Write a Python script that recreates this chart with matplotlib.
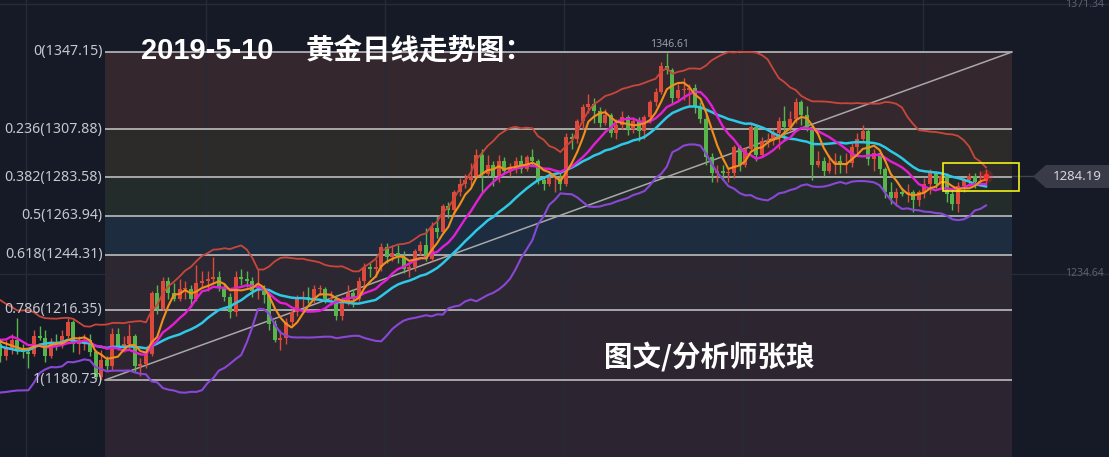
import numpy as np
import pandas as pd
import matplotlib
matplotlib.use('Agg')
import matplotlib.pyplot as plt
from matplotlib.patches import Rectangle, Polygon

# daily gold candles, 21 warm-up bars (off screen) + 177 visible bars
opens = [
    1214, 1208, 1211, 1213, 1212, 1211, 1194, 1193, 1174, 1174,
    1184, 1190, 1200, 1195, 1186, 1206, 1212, 1211, 1202, 1206, 1201,
    1199, 1193, 1197, 1201, 1196, 1195, 1194, 1203, 1202, 1193,
    1200, 1198, 1203, 1210, 1199, 1199, 1201, 1195, 1182, 1191,
    1188, 1204, 1198, 1199, 1203, 1188, 1189, 1194, 1225, 1217,
    1231, 1225, 1222, 1227, 1227, 1222, 1230, 1231, 1232, 1233,
    1228, 1223, 1215, 1233, 1232, 1231, 1226, 1226, 1224, 1209,
    1201, 1202, 1210, 1215, 1222, 1223, 1222, 1227, 1227, 1222,
    1222, 1213, 1221, 1225, 1222, 1231, 1238, 1237, 1238, 1248,
    1243, 1245, 1243, 1237, 1238, 1246, 1249, 1242, 1258, 1256,
    1269, 1267, 1276, 1280, 1282, 1284, 1295, 1285, 1290, 1284,
    1292, 1287, 1289, 1292, 1288, 1294, 1292, 1282, 1280, 1283,
    1283, 1280, 1304, 1303, 1312, 1319, 1321, 1317, 1311, 1315,
    1306, 1310, 1314, 1308, 1312, 1307, 1314, 1322, 1327, 1340,
    1338, 1324, 1328, 1328, 1329, 1319, 1313, 1294, 1286, 1287,
    1286, 1286, 1299, 1290, 1298, 1309, 1295, 1302, 1302, 1306,
    1312, 1309, 1313, 1322, 1315, 1309, 1290, 1292, 1287, 1291,
    1292, 1290, 1291, 1299, 1303, 1307, 1293, 1296, 1288, 1276,
    1273, 1276, 1275, 1276, 1272, 1276, 1280, 1286, 1280, 1284,
    1275, 1270, 1279, 1282, 1284, 1281, 1281.5,
]
highs = [
    1216, 1218, 1217, 1219, 1214, 1213, 1200, 1195, 1180, 1188,
    1192, 1202, 1203, 1196, 1207, 1214, 1215, 1212, 1208, 1208, 1203,
    1201, 1201, 1204, 1212, 1199, 1197, 1206, 1208, 1206, 1202,
    1204, 1206, 1212, 1211, 1203, 1204, 1204, 1196, 1196, 1193,
    1207, 1207, 1203, 1209, 1204, 1192, 1197, 1226, 1229, 1233,
    1233, 1230, 1232, 1231, 1229, 1239, 1236, 1236, 1243, 1236,
    1230, 1225, 1236, 1237, 1236, 1233, 1237, 1229, 1225, 1211,
    1206, 1212, 1217, 1224, 1226, 1228, 1229, 1229, 1228, 1226,
    1224, 1223, 1229, 1227, 1233, 1240, 1240, 1242, 1250, 1250,
    1249, 1249, 1246, 1240, 1247, 1251, 1258, 1261, 1264, 1270,
    1271, 1277, 1283, 1285, 1291, 1298, 1298, 1295, 1292, 1295,
    1294, 1291, 1294, 1295, 1295, 1298, 1293, 1284, 1287, 1285,
    1286, 1306, 1306, 1313, 1321, 1326, 1324, 1319, 1318, 1316,
    1313, 1317, 1315, 1314, 1314, 1315, 1323, 1329, 1342, 1346.61,
    1339, 1331, 1334, 1331, 1331, 1322, 1316, 1296, 1290, 1290,
    1288, 1300, 1300, 1299, 1311, 1310, 1304, 1306, 1308, 1314,
    1320, 1317, 1324, 1323, 1320, 1310, 1297, 1294, 1295, 1296,
    1295, 1296, 1301, 1306, 1310, 1308, 1298, 1296, 1289, 1281,
    1278, 1278, 1280, 1277, 1277, 1283, 1288, 1287, 1286, 1286,
    1277, 1281, 1283, 1286, 1286, 1287, 1288,
]
lows = [
    1205, 1206, 1208, 1210, 1207, 1190, 1191, 1167, 1160, 1172,
    1182, 1188, 1192, 1184, 1184, 1203, 1206, 1199, 1200, 1197, 1196,
    1190, 1191, 1194, 1194, 1192, 1187, 1193, 1201, 1190, 1192,
    1196, 1197, 1202, 1195, 1194, 1196, 1193, 1181, 1180.73, 1186,
    1186, 1196, 1195, 1196, 1185, 1183, 1187, 1193, 1214, 1216,
    1222, 1221, 1221, 1222, 1218, 1221, 1228, 1226, 1230, 1226,
    1221, 1212, 1213, 1229, 1228, 1223, 1222, 1220, 1206, 1200,
    1196, 1199, 1208, 1213, 1218, 1220, 1220, 1224, 1220, 1219,
    1211, 1211, 1219, 1218, 1221, 1228, 1233, 1233, 1236, 1240,
    1241, 1240, 1235, 1233, 1236, 1244, 1241, 1241, 1253, 1255,
    1263, 1264, 1274, 1278, 1279, 1283, 1276, 1284, 1279, 1281,
    1285, 1284, 1286, 1286, 1287, 1290, 1280, 1277, 1279, 1276,
    1277, 1279, 1298, 1301, 1308, 1316, 1311, 1309, 1310, 1304,
    1303, 1308, 1305, 1306, 1302, 1303, 1311, 1320, 1326, 1336,
    1321, 1322, 1323, 1319, 1316, 1311, 1290, 1281, 1281, 1282,
    1281, 1283, 1287, 1289, 1297, 1292, 1294, 1299, 1300, 1298,
    1302, 1307, 1311, 1310, 1307, 1282, 1289, 1284, 1286, 1285,
    1286, 1286, 1289, 1296, 1302, 1290, 1287, 1285, 1273, 1270,
    1269, 1274, 1271, 1266, 1269, 1273, 1275, 1278, 1278, 1271,
    1267, 1266, 1276, 1279, 1278, 1280, 1280,
]
closes = [
    1208, 1211, 1213, 1212, 1211, 1194, 1193, 1174, 1174, 1184,
    1190, 1200, 1195, 1186, 1206, 1212, 1211, 1202, 1206, 1201, 1199,
    1193, 1197, 1201, 1196, 1195, 1194, 1203, 1202, 1193, 1200,
    1198, 1203, 1210, 1199, 1199, 1201, 1195, 1182, 1191, 1188,
    1204, 1198, 1199, 1203, 1188, 1189, 1194, 1225, 1217, 1231,
    1225, 1222, 1227, 1227, 1222, 1230, 1231, 1232, 1233, 1228,
    1223, 1215, 1233, 1232, 1231, 1226, 1226, 1224, 1209, 1201,
    1202, 1210, 1215, 1222, 1223, 1222, 1227, 1227, 1222, 1222,
    1213, 1221, 1225, 1222, 1231, 1238, 1237, 1238, 1248, 1243,
    1245, 1243, 1237, 1238, 1246, 1249, 1242, 1258, 1256, 1269,
    1267, 1276, 1280, 1282, 1284, 1295, 1285, 1290, 1284, 1292,
    1287, 1289, 1292, 1288, 1294, 1292, 1282, 1280, 1283, 1283,
    1280, 1304, 1303, 1312, 1319, 1321, 1317, 1311, 1315, 1306,
    1310, 1314, 1308, 1312, 1307, 1314, 1322, 1327, 1340, 1338,
    1324, 1328, 1328, 1329, 1319, 1313, 1294, 1286, 1287, 1286,
    1286, 1299, 1290, 1298, 1309, 1295, 1302, 1302, 1306, 1312,
    1309, 1313, 1322, 1315, 1309, 1290, 1292, 1287, 1291, 1292,
    1290, 1291, 1299, 1303, 1307, 1293, 1296, 1288, 1276, 1273,
    1276, 1275, 1276, 1272, 1276, 1280, 1286, 1280, 1284, 1275,
    1270, 1279, 1282, 1284, 1281, 1281.5, 1284.19,
]
warmup = 21

# fibonacci retracement drawn on the chart
fib_ratios = ['0', '0.236', '0.382', '0.5', '0.618', '0.786', '1']
fib_prices = [1347.15, 1307.88, 1283.58, 1263.94, 1244.31, 1216.35, 1180.73]
fib_colors = ['#34282e', '#2d2b29', '#242c2b', '#1d2c3e', '#2c2731', '#2d2530', '#2c2430']

axis_labels = [1371.34, 1234.64]
peak_label = '1346.61'
last_price = 1284.19

BG = '#161a26'
W, H = 1109, 457

df = pd.DataFrame({'open': opens, 'high': highs, 'low': lows, 'close': closes})
df['x'] = np.arange(len(df)) - warmup
df['ma5'] = df['close'].rolling(5).mean()
df['ma10'] = df['close'].rolling(10).mean()
df['ma20'] = df['close'].rolling(20).mean()
std20 = df['close'].rolling(20).std(ddof=0)
df['up'] = df['ma20'] + 2 * std20
df['dn'] = df['ma20'] - 2 * std20

fig = plt.figure(figsize=(W / 100, H / 100), dpi=100, facecolor=BG)
ax = fig.add_axes([0, 0, 1, 1])
ax.set_facecolor(BG)
ax.set_xlim(-0.07, 197.96)
ax.set_ylim(1141.66, 1373.53)
ax.axis('off')


def fp(px, py):
    return px / W, 1 - py / H


# grid
for gx in [4.6, 36.7, 68.7, 100.6, 132.4, 164.8]:
    ax.axvline(gx, color='#262b38', lw=1, zorder=2)
for gy in axis_labels:
    ax.axhline(gy, color='#262b38', lw=1, zorder=2)

# fib zones
fx0, fx1 = 18.68, 180.64
bounds = fib_prices + [1141.66]
for k in range(len(fib_prices)):
    ax.add_patch(Rectangle((fx0, bounds[k + 1]), fx1 - fx0, bounds[k] - bounds[k + 1],
                           facecolor=fib_colors[k], edgecolor='none', zorder=1))
ax.hlines(fib_prices, fx0, fx1, color='#c9c9c9', lw=1.1, zorder=3)
for r, p in zip(fib_ratios, fib_prices):
    ax.text(fx0 - 0.45, p, f'{r}({p:.2f})', ha='right', va='center',
            color='#c6c8cf', fontsize=10.2, family='Noto Sans', zorder=6)
ax.plot([fx0, fx1], [fib_prices[-1], fib_prices[0]], color='#a9a7aa', lw=1.1, zorder=3)

# candles (red = up, green = down)
up = df['close'] >= df['open']
colors = np.where(up, '#dc4a3c', '#56b64c')
ax.vlines(df['x'], df['low'], df['high'], color=colors, lw=1, zorder=4)
body_lo = np.minimum(df['open'], df['close'])
body_h = np.maximum(np.abs(df['close'] - df['open']), 0.5)
ax.bar(df['x'], body_h, bottom=body_lo, width=0.7, color=colors, zorder=4)

# moving averages and bollinger bands
ax.plot(df['x'], df['up'], color='#c9473a', lw=1.3, zorder=5)
ax.plot(df['x'], df['dn'], color='#8a47d6', lw=1.5, zorder=5)
ax.plot(df['x'], df['ma20'], color='#2ec9e6', lw=1.8, zorder=5)
ax.plot(df['x'], df['ma10'], color='#e21fd4', lw=1.7, zorder=5)
ax.plot(df['x'], df['ma5'], color='#f38f1c', lw=1.5, zorder=5)

# last price marker
last_x = df['x'].iloc[-1]
ax.scatter([last_x], [last_price], s=90, color='#ff2020', alpha=0.25, lw=0, zorder=6)
ax.scatter([last_x], [last_price], s=18, color='#ff3030', lw=0, zorder=6)

# peak label
peak_i = df['high'].idxmax()
ax.text(df['x'][peak_i] + 0.4, df['high'][peak_i] + 1.3, peak_label, ha='center', va='bottom',
        color='#9a9ba3', fontsize=7.5, family='Noto Sans', zorder=6)

# right axis labels
for v in axis_labels:
    ax.text(197.0, v, f'{v:.2f}', ha='right', va='center', color='#5d6170',
            fontsize=7.5, family='Noto Sans', zorder=6)

# yellow box around the latest bars
x0, y0 = fp(943, 191)
x1, y1 = fp(1019, 163)
fig.patches.append(Rectangle((x0, y0), x1 - x0, y1 - y0, transform=fig.transFigure,
                             fill=False, edgecolor='#f2f216', lw=1.2, zorder=7))

# price tag
ax.plot([180.7, 184.4], [last_price, last_price], color='#40444f', lw=1, zorder=3)
tag = [fp(1033, 176.5), fp(1046, 165), fp(1109, 165), fp(1109, 188), fp(1046, 188)]
fig.patches.append(Polygon(tag, closed=True, transform=fig.transFigure,
                           facecolor='#393c48', edgecolor='none', zorder=7))
fig.text(*fp(1077, 176.5), f'{last_price:.2f}', ha='center', va='center',
         color='#d5d6da', fontsize=9.5, family='Noto Sans', zorder=8)

# titles
fig.text(*fp(141, 51), '2019-5-10', ha='left', va='center', color='white',
         fontsize=21, fontweight='bold', family='Liberation Sans', zorder=8)
fig.text(*fp(306, 51), '黄金日线走势图：', ha='left', va='center', color='white',
         fontsize=20.5, fontweight='bold', family=['Noto Sans CJK SC', 'DejaVu Sans'], zorder=8)
fig.text(*fp(604, 357), '图文/分析师张琅', ha='left', va='center', color='white',
         fontsize=20.5, fontweight='bold', family=['Noto Sans CJK SC', 'DejaVu Sans'], zorder=8)

fig.savefig('out.png', dpi=100, facecolor=BG)
